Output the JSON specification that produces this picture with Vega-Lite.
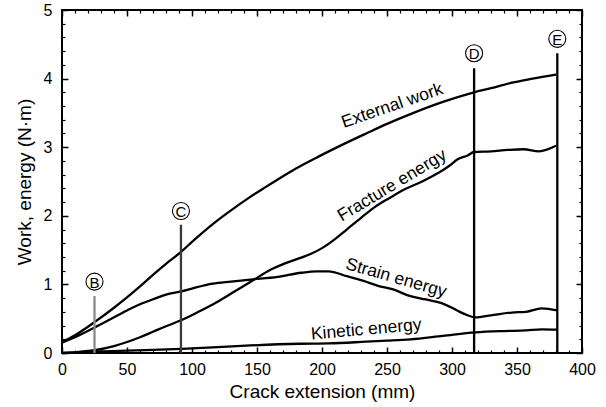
{
  "$schema": "https://vega.github.io/schema/vega-lite/v6.json",
  "width": 520,
  "height": 343,
  "autosize": {"type": "none"},
  "padding": {"left": 62, "top": 10, "right": 24, "bottom": 54},
  "background": "white",
  "config": {
    "view": {"stroke": "black", "strokeWidth": 2},
    "font": "Liberation Sans",
    "axis": {"grid": false, "domain": false, "tickColor": "black", "labelColor": "black", "titleColor": "black", "labelFont": "Liberation Sans", "titleFont": "Liberation Sans", "titleFontWeight": "normal", "labelFlush": false, "labelOverlap": false}
  },
  "datasets": {
    "curves": [
      {"s": "External work", "x": 0, "y": 0.16}, {"s": "External work", "x": 10, "y": 0.26}, {"s": "External work", "x": 25, "y": 0.45}, {"s": "External work", "x": 40, "y": 0.66}, {"s": "External work", "x": 50, "y": 0.81}, {"s": "External work", "x": 60, "y": 0.97}, {"s": "External work", "x": 70, "y": 1.14}, {"s": "External work", "x": 80, "y": 1.3}, {"s": "External work", "x": 92, "y": 1.48}, {"s": "External work", "x": 100, "y": 1.62}, {"s": "External work", "x": 116, "y": 1.88}, {"s": "External work", "x": 130, "y": 2.08}, {"s": "External work", "x": 142, "y": 2.24}, {"s": "External work", "x": 155, "y": 2.4}, {"s": "External work", "x": 166, "y": 2.53}, {"s": "External work", "x": 180, "y": 2.69}, {"s": "External work", "x": 198, "y": 2.87}, {"s": "External work", "x": 215, "y": 3.03}, {"s": "External work", "x": 234, "y": 3.2}, {"s": "External work", "x": 250, "y": 3.34}, {"s": "External work", "x": 269, "y": 3.49}, {"s": "External work", "x": 293, "y": 3.66}, {"s": "External work", "x": 317, "y": 3.8}, {"s": "External work", "x": 330, "y": 3.86}, {"s": "External work", "x": 346, "y": 3.94}, {"s": "External work", "x": 362, "y": 4.0}, {"s": "External work", "x": 380, "y": 4.06},
      {"s": "Fracture energy", "x": 0, "y": 0.0}, {"s": "Fracture energy", "x": 10, "y": 0.01}, {"s": "Fracture energy", "x": 25, "y": 0.04}, {"s": "Fracture energy", "x": 40, "y": 0.1}, {"s": "Fracture energy", "x": 50, "y": 0.16}, {"s": "Fracture energy", "x": 60, "y": 0.23}, {"s": "Fracture energy", "x": 70, "y": 0.31}, {"s": "Fracture energy", "x": 80, "y": 0.39}, {"s": "Fracture energy", "x": 92, "y": 0.48}, {"s": "Fracture energy", "x": 105, "y": 0.6}, {"s": "Fracture energy", "x": 119, "y": 0.74}, {"s": "Fracture energy", "x": 133, "y": 0.9}, {"s": "Fracture energy", "x": 147, "y": 1.06}, {"s": "Fracture energy", "x": 160, "y": 1.21}, {"s": "Fracture energy", "x": 172, "y": 1.31}, {"s": "Fracture energy", "x": 184, "y": 1.39}, {"s": "Fracture energy", "x": 192, "y": 1.45}, {"s": "Fracture energy", "x": 201, "y": 1.54}, {"s": "Fracture energy", "x": 210, "y": 1.66}, {"s": "Fracture energy", "x": 219, "y": 1.8}, {"s": "Fracture energy", "x": 230, "y": 1.97}, {"s": "Fracture energy", "x": 240, "y": 2.12}, {"s": "Fracture energy", "x": 252, "y": 2.26}, {"s": "Fracture energy", "x": 264, "y": 2.39}, {"s": "Fracture energy", "x": 277, "y": 2.5}, {"s": "Fracture energy", "x": 290, "y": 2.63}, {"s": "Fracture energy", "x": 298, "y": 2.73}, {"s": "Fracture energy", "x": 305, "y": 2.83}, {"s": "Fracture energy", "x": 312, "y": 2.88}, {"s": "Fracture energy", "x": 317, "y": 2.93}, {"s": "Fracture energy", "x": 330, "y": 2.94}, {"s": "Fracture energy", "x": 343, "y": 2.96}, {"s": "Fracture energy", "x": 355, "y": 2.97}, {"s": "Fracture energy", "x": 367, "y": 2.94}, {"s": "Fracture energy", "x": 380, "y": 3.02},
      {"s": "Strain energy", "x": 0, "y": 0.15}, {"s": "Strain energy", "x": 10, "y": 0.23}, {"s": "Strain energy", "x": 25, "y": 0.37}, {"s": "Strain energy", "x": 40, "y": 0.52}, {"s": "Strain energy", "x": 51, "y": 0.63}, {"s": "Strain energy", "x": 60, "y": 0.71}, {"s": "Strain energy", "x": 71, "y": 0.79}, {"s": "Strain energy", "x": 80, "y": 0.85}, {"s": "Strain energy", "x": 92, "y": 0.9}, {"s": "Strain energy", "x": 100, "y": 0.94}, {"s": "Strain energy", "x": 116, "y": 1.01}, {"s": "Strain energy", "x": 130, "y": 1.04}, {"s": "Strain energy", "x": 145, "y": 1.07}, {"s": "Strain energy", "x": 166, "y": 1.11}, {"s": "Strain energy", "x": 184, "y": 1.17}, {"s": "Strain energy", "x": 196, "y": 1.19}, {"s": "Strain energy", "x": 205, "y": 1.19}, {"s": "Strain energy", "x": 219, "y": 1.12}, {"s": "Strain energy", "x": 232, "y": 1.05}, {"s": "Strain energy", "x": 243, "y": 0.98}, {"s": "Strain energy", "x": 254, "y": 0.93}, {"s": "Strain energy", "x": 268, "y": 0.83}, {"s": "Strain energy", "x": 280, "y": 0.78}, {"s": "Strain energy", "x": 293, "y": 0.72}, {"s": "Strain energy", "x": 300, "y": 0.66}, {"s": "Strain energy", "x": 306, "y": 0.6}, {"s": "Strain energy", "x": 312, "y": 0.55}, {"s": "Strain energy", "x": 318, "y": 0.52}, {"s": "Strain energy", "x": 330, "y": 0.55}, {"s": "Strain energy", "x": 346, "y": 0.59}, {"s": "Strain energy", "x": 357, "y": 0.6}, {"s": "Strain energy", "x": 369, "y": 0.65}, {"s": "Strain energy", "x": 381, "y": 0.62},
      {"s": "Kinetic energy", "x": 0, "y": 0.0}, {"s": "Kinetic energy", "x": 25, "y": 0.02}, {"s": "Kinetic energy", "x": 50, "y": 0.035}, {"s": "Kinetic energy", "x": 92, "y": 0.06}, {"s": "Kinetic energy", "x": 120, "y": 0.085}, {"s": "Kinetic energy", "x": 145, "y": 0.11}, {"s": "Kinetic energy", "x": 183, "y": 0.135}, {"s": "Kinetic energy", "x": 205, "y": 0.14}, {"s": "Kinetic energy", "x": 234, "y": 0.165}, {"s": "Kinetic energy", "x": 250, "y": 0.18}, {"s": "Kinetic energy", "x": 268, "y": 0.2}, {"s": "Kinetic energy", "x": 293, "y": 0.25}, {"s": "Kinetic energy", "x": 318, "y": 0.3}, {"s": "Kinetic energy", "x": 340, "y": 0.32}, {"s": "Kinetic energy", "x": 357, "y": 0.33}, {"s": "Kinetic energy", "x": 369, "y": 0.345}, {"s": "Kinetic energy", "x": 381, "y": 0.34}
    ],
    "markers": [
      {"m": "B", "x": 25, "top": 0.83, "cy": 1.04},
      {"m": "C", "x": 91.5, "top": 1.87, "cy": 2.07},
      {"m": "D", "x": 317, "top": 4.15, "cy": 4.37},
      {"m": "E", "x": 381, "top": 4.37, "cy": 4.58}
    ],
    "labels": [
      {"t": "External work", "x": 254, "y": 3.6},
      {"t": "Fracture energy", "x": 254, "y": 2.44},
      {"t": "Strain energy", "x": 257, "y": 1.09},
      {"t": "Kinetic energy", "x": 234, "y": 0.34}
    ]
  },
  "layer": [
    {
      "data": {"name": "curves"},
      "mark": {"type": "line", "color": "black", "interpolate": "monotone"},
      "encoding": {
        "x": {"field": "x", "type": "quantitative", "scale": {"domain": [0, 400], "nice": false, "zero": false},
          "axis": {"orient": "bottom", "values": [0, 50, 100, 150, 200, 250, 300, 350, 400], "tickSize": -6, "tickWidth": 1.5, "labelFontSize": 16, "labelPadding": 14, "title": "Crack extension (mm)", "titleFontSize": 19, "titlePadding": 5}},
        "y": {"field": "y", "type": "quantitative", "scale": {"domain": [0, 5], "nice": false, "zero": false},
          "axis": {"orient": "left", "values": [0, 1, 2, 3, 4, 5], "tickSize": -6, "tickWidth": 1.5, "labelFontSize": 16, "labelPadding": 16, "title": "Work, energy (N·m)", "titleFontSize": 19, "titlePadding": 9}},
        "detail": {"field": "s", "type": "nominal"},
        "strokeWidth": {"field": "s", "type": "ordinal", "scale": {"domain": ["External work", "Fracture energy", "Strain energy", "Kinetic energy"], "range": [2.3, 2.3, 1.4, 1.4]}, "legend": null}
      }
    },
    {
      "data": {"name": "markers"},
      "mark": {"type": "rule"},
      "encoding": {
        "x": {"field": "x", "type": "quantitative", "scale": {"domain": [0, 400], "nice": false, "zero": false},
          "axis": {"orient": "bottom", "values": [10, 20, 30, 40, 60, 70, 80, 90, 110, 120, 130, 140, 160, 170, 180, 190, 210, 220, 230, 240, 260, 270, 280, 290, 310, 320, 330, 340, 360, 370, 380, 390], "tickSize": -3, "tickWidth": 1.2, "labels": false, "title": null}},
        "y": {"field": "top", "type": "quantitative", "scale": {"domain": [0, 5], "nice": false, "zero": false},
          "axis": {"orient": "left", "values": [0.2, 0.4, 0.6, 0.8, 1.2, 1.4, 1.6, 1.8, 2.2, 2.4, 2.6, 2.8, 3.2, 3.4, 3.6, 3.8, 4.2, 4.4, 4.6, 4.8], "tickSize": -3, "tickWidth": 1.2, "labels": false, "title": null}},
        "y2": {"datum": 0},
        "color": {"field": "m", "type": "nominal", "scale": {"domain": ["B", "C", "D", "E"], "range": ["#8a8a8a", "#3a3a3a", "#000000", "#000000"]}, "legend": null},
        "strokeWidth": {"field": "m", "type": "ordinal", "scale": {"domain": ["B", "C", "D", "E"], "range": [1, 1.1, 1.3, 1.6]}, "legend": null}
      }
    },
    {
      "data": {"name": "markers"},
      "mark": {"type": "point", "shape": "circle", "filled": true, "fill": "white", "stroke": "black", "strokeWidth": 1.1, "size": 290, "opacity": 1},
      "encoding": {
        "x": {"field": "x", "type": "quantitative", "scale": {"domain": [0, 400], "nice": false, "zero": false},
          "axis": {"orient": "top", "values": [0, 50, 100, 150, 200, 250, 300, 350, 400], "tickSize": -6, "tickWidth": 1.5, "labels": false, "title": null}},
        "y": {"field": "cy", "type": "quantitative", "scale": {"domain": [0, 5], "nice": false, "zero": false},
          "axis": {"orient": "right", "values": [0, 1, 2, 3, 4, 5], "tickSize": -6, "tickWidth": 1.5, "labels": false, "title": null}}
      }
    },
    {
      "data": {"name": "markers"},
      "mark": {"type": "text", "fontSize": 15, "baseline": "middle", "align": "center", "color": "black", "dy": 1},
      "encoding": {
        "x": {"field": "x", "type": "quantitative", "scale": {"domain": [0, 400], "nice": false, "zero": false},
          "axis": {"orient": "top", "values": [10, 20, 30, 40, 60, 70, 80, 90, 110, 120, 130, 140, 160, 170, 180, 190, 210, 220, 230, 240, 260, 270, 280, 290, 310, 320, 330, 340, 360, 370, 380, 390], "tickSize": -3, "tickWidth": 1.2, "labels": false, "title": null}},
        "y": {"field": "cy", "type": "quantitative", "scale": {"domain": [0, 5], "nice": false, "zero": false},
          "axis": {"orient": "right", "values": [0.2, 0.4, 0.6, 0.8, 1.2, 1.4, 1.6, 1.8, 2.2, 2.4, 2.6, 2.8, 3.2, 3.4, 3.6, 3.8, 4.2, 4.4, 4.6, 4.8], "tickSize": -3, "tickWidth": 1.2, "labels": false, "title": null}},
        "text": {"field": "m", "type": "nominal"}
      }
    },
    {
      "data": {"name": "labels"},
      "transform": [{"filter": "datum.t === 'External work'"}],
      "mark": {"type": "text", "fontSize": 17.5, "angle": -19, "baseline": "middle", "align": "center", "color": "black"},
      "encoding": {
        "x": {"field": "x", "type": "quantitative", "scale": {"domain": [0, 400], "nice": false, "zero": false}, "axis": null},
        "y": {"field": "y", "type": "quantitative", "scale": {"domain": [0, 5], "nice": false, "zero": false}, "axis": null},
        "text": {"field": "t", "type": "nominal"}
      }
    },
    {
      "data": {"name": "labels"},
      "transform": [{"filter": "datum.t === 'Fracture energy'"}],
      "mark": {"type": "text", "fontSize": 17.5, "angle": -31, "baseline": "middle", "align": "center", "color": "black"},
      "encoding": {
        "x": {"field": "x", "type": "quantitative", "scale": {"domain": [0, 400], "nice": false, "zero": false}, "axis": null},
        "y": {"field": "y", "type": "quantitative", "scale": {"domain": [0, 5], "nice": false, "zero": false}, "axis": null},
        "text": {"field": "t", "type": "nominal"}
      }
    },
    {
      "data": {"name": "labels"},
      "transform": [{"filter": "datum.t === 'Strain energy'"}],
      "mark": {"type": "text", "fontSize": 17.5, "angle": 16, "baseline": "middle", "align": "center", "color": "black"},
      "encoding": {
        "x": {"field": "x", "type": "quantitative", "scale": {"domain": [0, 400], "nice": false, "zero": false}, "axis": null},
        "y": {"field": "y", "type": "quantitative", "scale": {"domain": [0, 5], "nice": false, "zero": false}, "axis": null},
        "text": {"field": "t", "type": "nominal"}
      }
    },
    {
      "data": {"name": "labels"},
      "transform": [{"filter": "datum.t === 'Kinetic energy'"}],
      "mark": {"type": "text", "fontSize": 17.5, "angle": -5, "baseline": "middle", "align": "center", "color": "black"},
      "encoding": {
        "x": {"field": "x", "type": "quantitative", "scale": {"domain": [0, 400], "nice": false, "zero": false}, "axis": null},
        "y": {"field": "y", "type": "quantitative", "scale": {"domain": [0, 5], "nice": false, "zero": false}, "axis": null},
        "text": {"field": "t", "type": "nominal"}
      }
    }
  ],
  "resolve": {"axis": {"x": "independent", "y": "independent"}}
}
